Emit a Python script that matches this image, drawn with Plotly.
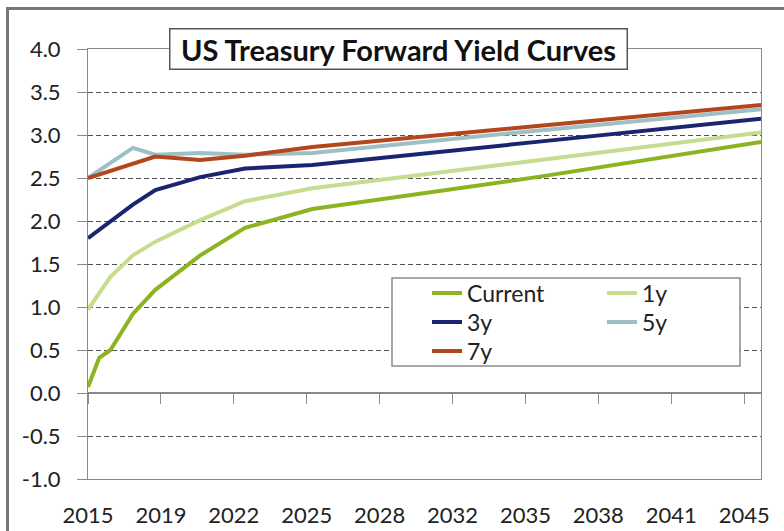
import plotly.graph_objects as go

# ---- data (maturity in months from the start of the curve) ----
months = [0, 6, 12, 24, 36, 60, 84, 120, 240, 360]
current = [0.07, 0.41, 0.50, 0.92, 1.20, 1.60, 1.92, 2.14, 2.51, 2.92]
fwd_1y = [0.97, 1.16, 1.35, 1.60, 1.76, 2.01, 2.23, 2.38, 2.71, 3.03]
fwd_3y = [1.80, 1.90, 2.00, 2.19, 2.36, 2.51, 2.61, 2.65, 2.92, 3.19]
fwd_5y = [2.50, 2.59, 2.67, 2.85, 2.77, 2.79, 2.77, 2.79, 3.05, 3.30]
fwd_7y = [2.50, 2.54, 2.58, 2.67, 2.75, 2.71, 2.76, 2.86, 3.10, 3.35]

x_tick_pos = [0, 39, 78, 117, 156, 195, 234, 273, 312, 351]
x_tick_text = ["2015", "2019", "2022", "2025", "2028", "2032", "2035", "2038", "2041", "2045"]
y_tick_vals = [-1.0, -0.5, 0.0, 0.5, 1.0, 1.5, 2.0, 2.5, 3.0, 3.5, 4.0]
y_tick_text = ["-1.0", "-0.5", "0.0", "0.5", "1.0", "1.5", "2.0", "2.5", "3.0", "3.5", "4.0"]

series_names = ["Current", "1y", "3y", "5y", "7y"]
series_values = [current, fwd_1y, fwd_3y, fwd_5y, fwd_7y]
series_colors = ["#8CB421", "#C6DC8E", "#1A2570", "#9DC0C4", "#B3461C"]

FONT = "Lato"
W, H = 784, 531
L, R, T, B = 88, 23, 49, 52
PW, PH = W - L - R, H - T - B


def px_x(p):
    return (p - L) / PW


def px_y(p):
    return (H - B - p) / PH


# legend slot for each series: (legend id, left px of entry, row centre px)
legend_slots = [("legend", 427, 293), ("legend2", 602, 293), ("legend3", 427, 322),
                ("legend4", 602, 322), ("legend5", 427, 351)]

fig = go.Figure()
for name, vals, color, (leg, _, _) in zip(series_names, series_values, series_colors, legend_slots):
    fig.add_trace(go.Scatter(x=months, y=vals, mode="lines", name=name,
                             line=dict(color=color, width=4), legend=leg))

# invisible helper trace so the zero-crossing tick axis is rendered
fig.add_trace(go.Scatter(x=[months[0]], y=[None], xaxis="x2", mode="lines",
                         showlegend=False, hoverinfo="skip"))

legend_layout = {}
for leg, lx, ly in legend_slots:
    legend_layout[leg] = dict(x=px_x(lx), y=px_y(ly), xanchor="left", yanchor="middle",
                              bgcolor="rgba(0,0,0,0)", borderwidth=0,
                              font=dict(family=FONT, size=23, color="#222222"))

fig.update_layout(
    width=W, height=H,
    margin=dict(l=L, r=R, t=T, b=B, autoexpand=False),
    paper_bgcolor="white", plot_bgcolor="white",
    font=dict(family=FONT, size=22, color="#222222"),
    xaxis=dict(range=[0, 360], tickmode="array", tickvals=x_tick_pos, ticktext=x_tick_text,
               showgrid=False, zeroline=False, showline=True, mirror=True, automargin=False,
               linecolor="#8a8a8a", linewidth=1, ticks="", ticklabelstandoff=17,
               tickfont=dict(family=FONT, size=22, color="#222222")),
    xaxis2=dict(range=[0, 360], overlaying="x", anchor="free", position=0.2, side="bottom",
                tickmode="array", tickvals=x_tick_pos, showticklabels=False, automargin=False,
                ticks="outside", ticklen=10, tickcolor="#8a8a8a", tickwidth=1,
                showgrid=False, zeroline=False, showline=False),
    yaxis=dict(range=[-1, 4], tickmode="array", tickvals=y_tick_vals, ticktext=y_tick_text,
               showgrid=True, gridcolor="#505050", gridwidth=1, griddash="5px,3px",
               zeroline=True, zerolinecolor="#8a8a8a", zerolinewidth=1.5, automargin=False,
               showline=True, mirror=True, linecolor="#8a8a8a", linewidth=1,
               ticks="outside", ticklen=10, tickcolor="#8a8a8a", ticklabelstandoff=12,
               tickfont=dict(family=FONT, size=22, color="#222222")),
    showlegend=True,
    **legend_layout,
)

# legend frame
fig.add_shape(type="rect", xref="paper", yref="paper",
              x0=px_x(392), x1=px_x(740), y0=px_y(366), y1=px_y(278),
              line=dict(color="#8a8a8a", width=1.5), fillcolor="white", layer="above")

# outer chart frame (cut off at right and bottom in the reference)
fig.add_shape(type="rect", xref="paper", yref="paper",
              x0=px_x(7.5), x1=px_x(790), y0=px_y(540), y1=px_y(8.5),
              line=dict(color="#777777", width=3), fillcolor="rgba(0,0,0,0)", layer="above")

# title box
fig.add_annotation(xref="paper", yref="paper", x=px_x(398), y=px_y(49),
                   xanchor="center", yanchor="middle",
                   text="<b>US Treasury Forward Yield Curves</b>", showarrow=False,
                   font=dict(family=FONT, size=29, color="#111111"),
                   bgcolor="white", bordercolor="#555555", borderwidth=1.5, borderpad=2,
                   width=452, height=35)

fig.write_html("out.html", config={"displayModeBar": False},
               post_script="document.body.style.margin='0';document.body.style.overflow='hidden';")
